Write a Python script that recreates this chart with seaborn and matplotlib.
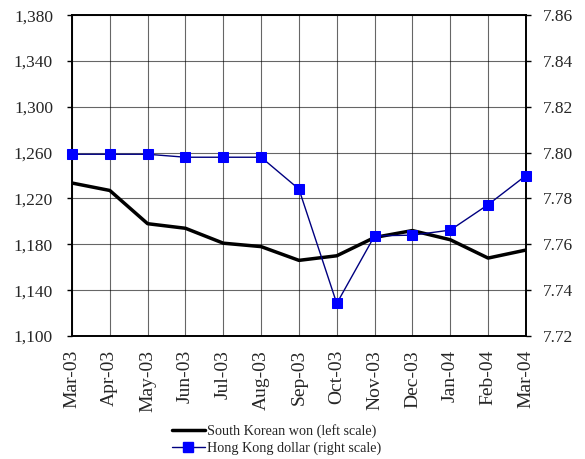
import pandas as pd
import seaborn as sns
import matplotlib.pyplot as plt
from matplotlib.lines import Line2D

# Monthly exchange rates against the US dollar
months = ["Mar-03", "Apr-03", "May-03", "Jun-03", "Jul-03", "Aug-03", "Sep-03",
          "Oct-03", "Nov-03", "Dec-03", "Jan-04", "Feb-04", "Mar-04"]
won = [1233.5, 1227, 1198, 1194, 1181, 1178, 1166, 1170, 1186, 1192, 1184, 1168, 1175]
hkd = [7.7993, 7.7993, 7.7993, 7.798, 7.798, 7.798, 7.7841, 7.7342, 7.7637,
       7.764, 7.7662, 7.7773, 7.790]

left_ticks = [1100, 1140, 1180, 1220, 1260, 1300, 1340, 1380]
right_ticks = [7.72, 7.74, 7.76, 7.78, 7.80, 7.82, 7.84, 7.86]

df = pd.DataFrame({"month": months, "won": won, "hkd": hkd})
df["pos"] = range(len(months))

sns.set_style("white")
plt.rcParams['font.family'] = ['Liberation Serif', 'DejaVu Serif']

fig = plt.figure(figsize=(5.85, 4.59), dpi=100)
ax = fig.add_axes([0.123, 0.268, 0.776, 0.699])
ax2 = ax.twinx()

sns.lineplot(data=df, x="pos", y="won", ax=ax, color="black", linewidth=2.5, zorder=3)
sns.lineplot(data=df, x="pos", y="hkd", ax=ax2, color="#000080", linewidth=1,
             marker="s", markersize=7, markerfacecolor="#0000FF",
             markeredgecolor="#0000FF", zorder=4, clip_on=False)

ax.set_xlim(0, len(months) - 1)
ax.set_ylim(1100, 1380)
ax2.set_ylim(7.72, 7.86)
ax.set_yticks(left_ticks)
ax.set_yticklabels([f"{v:,}" for v in left_ticks], fontsize=12.5)
ax2.set_yticks(right_ticks)
ax2.set_yticklabels([f"{v:.2f}" for v in right_ticks], fontsize=12.5)
ax.set_xticks(df["pos"])
ax.set_xticklabels(months, rotation=90, fontsize=14)
ax.set_xlabel("")
ax.set_ylabel("")
ax2.set_ylabel("")

ax.grid(True, color="black", linewidth=0.8, alpha=0.6)
for a in (ax, ax2):
    a.tick_params(direction="out", length=3.6, width=1, color="black")
    for s in a.spines.values():
        s.set_color("black")
        s.set_linewidth(1.2)
ax.tick_params(axis="y", pad=10)
ax2.tick_params(axis="y", pad=8.6)
ax.tick_params(axis="x", pad=6.5)

handles = [Line2D([], [], color="black", linewidth=2.5),
           Line2D([], [], color="#000080", linewidth=1, marker="s", markersize=7,
                  markerfacecolor="#0000FF", markeredgecolor="#0000FF")]
labels = ["South Korean won (left scale)", "Hong Kong dollar (right scale)"]
fig.legend(handles, labels, loc="upper left", bbox_to_anchor=(172 / 585, 1 - 424 / 459),
           frameon=False, fontsize=10.2, handlelength=2.3, handletextpad=0.15,
           labelspacing=0.25, borderpad=0, borderaxespad=0)

fig.savefig("out.png", dpi=100)
